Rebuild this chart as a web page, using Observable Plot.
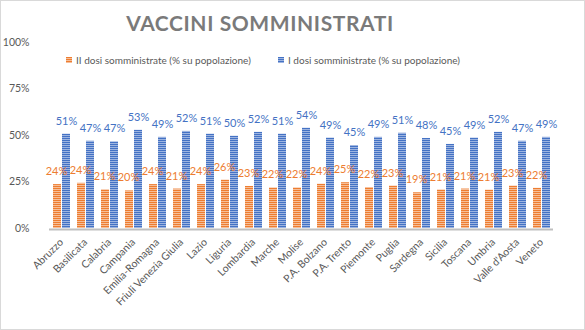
<!DOCTYPE html>
<html>
<head>
<meta charset="utf-8">
<script src="https://cdn.jsdelivr.net/npm/d3@7"></script>
<script src="https://cdn.jsdelivr.net/npm/@observablehq/plot@0.6"></script>
<style>
  body { margin: 0; background: white; }
  #wrap { position: relative; width: 585px; height: 330px; overflow: hidden; font-family: Lato, sans-serif; }
  #border { position: absolute; left: 0; top: 0; width: 583px; height: 328px; border: 1px solid #d9d9d9; pointer-events: none; }
  #title { position: absolute; left: 0; width: 520px; top: 10px; text-align: center; font-size: 21px; font-weight: bold; letter-spacing: 0.6px; color: #7a7a7a; }
  #legend { position: absolute; top: 54px; left: 66px; font-size: 10px; color: #595959; white-space: nowrap; }
  .item { position: absolute; top: 0; display: flex; align-items: center; }
  .sw { width: 6px; height: 6px; margin-right: 4px; }
</style>
</head>
<body>
<div id="wrap">
  <div id="chart"></div>
  <div id="title">VACCINI SOMMINISTRATI</div>
  <div id="legend"></div>
  <div id="border"></div>
</div>
<script>
const regions = ["Abruzzo","Basilicata","Calabria","Campania","Emilia-Romagna","Friuli Venezia Giulia","Lazio","Liguria","Lombardia","Marche","Molise","P.A. Bolzano","P.A. Trento","Piemonte","Puglia","Sardegna","Sicilia","Toscana","Umbria","Valle d'Aosta","Veneto"];
const secondDose = [23.6, 24.3, 20.8, 20.2, 23.6, 21.2, 23.6, 26.0, 22.6, 21.8, 21.8, 23.8, 24.6, 22.0, 22.8, 19.2, 20.7, 21.2, 20.6, 22.8, 21.6];
const firstDose = [50.7, 46.9, 46.6, 52.8, 49.0, 52.2, 50.7, 49.6, 51.7, 50.7, 53.9, 48.6, 44.6, 49.0, 51.2, 48.4, 45.2, 48.6, 51.7, 46.9, 49.0];
const seriesNames = ["II dosi somministrate (% su popolazione)", "I dosi somministrate (% su popolazione)"];
const yTicks = [0, 25, 50, 75, 100];

const orange = "#ED7D31", blue = "#4472C4";
const second = regions.map((r, i) => ({region: r, series: "II", value: secondDose[i]}));
const first = regions.map((r, i) => ({region: r, series: "I", value: firstDose[i]}));

const chart = Plot.plot({
  width: 585,
  height: 330,
  marginLeft: 40,
  marginRight: 23,
  marginTop: 42,
  marginBottom: 102,
  style: {fontFamily: "Lato, sans-serif", fontSize: "10.5px", color: "#595959", background: "white"},
  fx: {domain: regions, paddingInner: 0, paddingOuter: 0, axis: "bottom", tickRotate: -45, tickSize: 0, tickPadding: 12, label: null},
  x: {domain: ["II", "I"], paddingInner: 0.15, paddingOuter: 0.4, axis: null},
  y: {domain: [0, 100], ticks: yTicks, tickFormat: d => d + "%", tickSize: 0, tickPadding: 20, label: null},
  marks: [
    Plot.barY(second, {fx: "region", x: "series", y: "value", fill: "url(#pOrange)"}),
    Plot.barY(first, {fx: "region", x: "series", y: "value", fill: "url(#pBlue)"}),
    Plot.ruleY([0], {stroke: "#bfbfbf", strokeWidth: 2, dy: 1}),
    Plot.text(second, {fx: "region", x: "series", y: "value", text: d => Math.round(d.value) + "%", dy: -13, dx: -1, fill: orange, fontSize: 11}),
    Plot.text(first, {fx: "region", x: "series", y: "value", text: d => Math.round(d.value) + "%", dy: -13, fill: blue, fontSize: 11})
  ]
});

const svg = d3.select(chart);
const defs = svg.insert("defs", ":first-child");
function pattern(id, c1, c2) {
  const p = defs.append("pattern").attr("id", id).attr("patternUnits", "userSpaceOnUse").attr("width", 4).attr("height", 2);
  p.append("rect").attr("width", 4).attr("height", 2).attr("fill", c1);
  p.append("rect").attr("y", 1).attr("width", 4).attr("height", 1).attr("fill", c2);
}
pattern("pOrange", orange, "#F6BE98");
pattern("pBlue", blue, "#9DB4E0");
document.getElementById("chart").appendChild(chart);

const legend = d3.select("#legend");
const lx = [0, 212];
[["pOrange", orange, "#F6BE98"], ["pBlue", blue, "#9DB4E0"]].forEach(([id, c1, c2], i) => {
  const it = legend.append("div").attr("class", "item").style("left", lx[i] + "px");
  it.append("div").attr("class", "sw").style("background", `repeating-linear-gradient(to bottom, ${c1} 0 1px, ${c2} 1px 2px)`);
  it.append("span").text(seriesNames[i]);
});
</script>
</body>
</html>
